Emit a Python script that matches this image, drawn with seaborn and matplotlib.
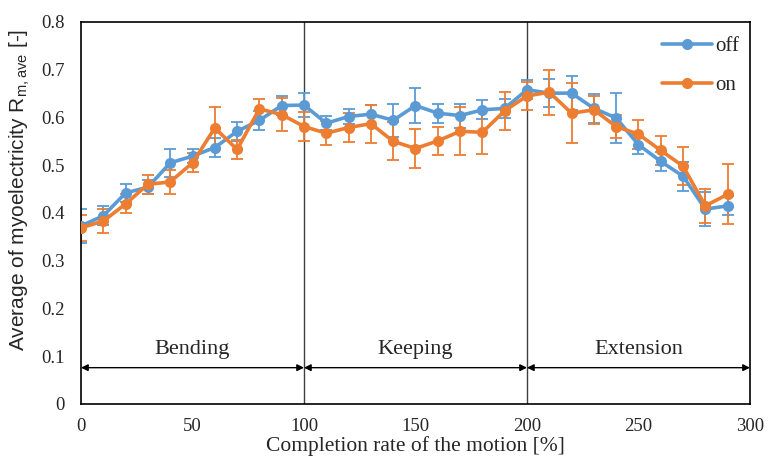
import numpy as np
import pandas as pd
import matplotlib
matplotlib.use("Agg")
import matplotlib.pyplot as plt
import seaborn as sns

# completion rate [%]
rate = [0, 10, 20, 30, 40, 50, 60, 70, 80, 90,
        100, 110, 120, 130, 140, 150, 160, 170, 180, 190,
        200, 210, 220, 230, 240, 250, 260, 270, 280, 290]

off_mean = [0.373, 0.394, 0.442, 0.454, 0.505, 0.519, 0.537, 0.571, 0.594, 0.625,
            0.626, 0.588, 0.602, 0.607, 0.594, 0.625, 0.609, 0.604, 0.616, 0.619,
            0.658, 0.651, 0.651, 0.619, 0.599, 0.543, 0.508, 0.477, 0.408, 0.415]
off_err = [0.035, 0.020, 0.018, 0.015, 0.030, 0.015, 0.020, 0.020, 0.020, 0.020,
           0.025, 0.015, 0.015, 0.020, 0.035, 0.037, 0.020, 0.025, 0.020, 0.020,
           0.020, 0.030, 0.036, 0.030, 0.052, 0.020, 0.020, 0.030, 0.035, 0.020]

on_mean = [0.369, 0.383, 0.419, 0.460, 0.465, 0.505, 0.578, 0.533, 0.618, 0.606,
           0.581, 0.567, 0.579, 0.587, 0.550, 0.535, 0.551, 0.571, 0.569, 0.614,
           0.645, 0.653, 0.609, 0.616, 0.581, 0.565, 0.531, 0.498, 0.415, 0.439]
on_err = [0.027, 0.025, 0.020, 0.020, 0.025, 0.020, 0.043, 0.020, 0.020, 0.035,
          0.030, 0.025, 0.030, 0.040, 0.040, 0.040, 0.030, 0.050, 0.045, 0.040,
          0.030, 0.047, 0.063, 0.030, 0.025, 0.030, 0.030, 0.040, 0.035, 0.063]

phases = ["Bending", "Keeping", "Extension"]
phase_edges = [0, 100, 200, 300]

blue = "#5B9BD5"
orange = "#ED7D31"

df = pd.DataFrame({
    "rate": rate * 2,
    "value": off_mean + on_mean,
    "cond": ["off"] * len(rate) + ["on"] * len(rate),
})

sns.set_style("white")
plt.rcParams["font.family"] = ["Liberation Serif", "DejaVu Serif"]
plt.rcParams["mathtext.default"] = "regular"

fig = plt.figure(figsize=(7.68, 4.58), dpi=100)
ax = fig.add_axes([0.1055, 0.118, 0.871, 0.834])

ax.errorbar(rate, off_mean, yerr=off_err, fmt="none", ecolor=blue,
            elinewidth=1.3, capsize=4, capthick=1.3, zorder=2)
ax.errorbar(rate, on_mean, yerr=on_err, fmt="none", ecolor=orange,
            elinewidth=1.3, capsize=4, capthick=1.3, zorder=2)
sns.lineplot(data=df, x="rate", y="value", hue="cond",
             palette={"off": blue, "on": orange}, marker="o",
             markersize=8, markeredgewidth=0, linewidth=2.6, ax=ax, zorder=3)

# phase separators and arrows
for xv in phase_edges[1:3]:
    ax.axvline(xv, color="#404040", lw=1.0, zorder=1)
for i, name in enumerate(phases):
    a, b = phase_edges[i], phase_edges[i + 1]
    ax.annotate("", xy=(a, 0.076), xytext=(b, 0.076),
                arrowprops=dict(arrowstyle="<|-|>", color="black", lw=1.0,
                                shrinkA=0, shrinkB=0, mutation_scale=10))
    ax.text((a + b) / 2, 0.114, name, ha="center", va="center", fontsize=16)

ax.set_xlim(0, 300)
ax.set_ylim(0, 0.8)
ax.set_xticks([0, 50, 100, 150, 200, 250, 300])
ax.set_yticks(np.arange(0, 0.81, 0.1))
ax.set_yticklabels(["0", "0.1", "0.2", "0.3", "0.4", "0.5", "0.6", "0.7", "0.8"])
ax.tick_params(labelsize=13.5, length=0)
ax.tick_params(axis="x", pad=10)
ax.tick_params(axis="y", pad=12)
for s in ax.spines.values():
    s.set_color("black")
    s.set_linewidth(1.2)

ax.set_xlabel("Completion rate of the motion [%]", fontsize=15.5, labelpad=1)
ax.set_ylabel(r"Average of myoelectricity R$_{m,ave}$ [-]", fontsize=15,
              family=["Liberation Sans", "DejaVu Sans"])
ax.yaxis.set_label_coords(-0.073, 0.56)

leg = ax.legend(loc="upper right", frameon=False, fontsize=15,
                bbox_to_anchor=(1.012, 1.01), handlelength=2.4,
                handletextpad=0.15, labelspacing=0.9)

fig.savefig("out.png", dpi=100)
